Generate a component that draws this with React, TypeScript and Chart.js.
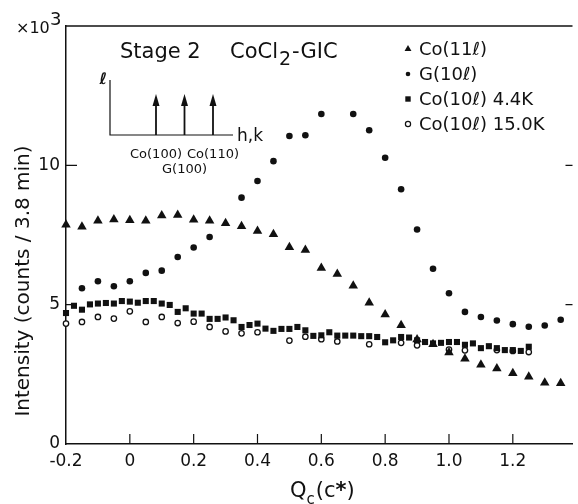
import React, { useEffect, useRef } from 'react';
import { Chart, registerables } from 'chart.js';

Chart.register(...registerables);

// ---------- data ----------
const triLabel = 'Co(11ℓ)';
const triQ = [-0.2, -0.15, -0.1, -0.05, 0, 0.05, 0.1, 0.15, 0.2, 0.25, 0.3, 0.35, 0.4, 0.45, 0.5, 0.55, 0.6, 0.65, 0.7, 0.75, 0.8, 0.85, 0.9, 0.95, 1.0, 1.05, 1.1, 1.15, 1.2, 1.25, 1.3, 1.35];
const triI = [7.87, 7.8, 8.01, 8.06, 8.03, 8.01, 8.2, 8.22, 8.05, 8.01, 7.92, 7.81, 7.64, 7.53, 7.06, 6.96, 6.32, 6.1, 5.68, 5.07, 4.65, 4.26, 3.75, 3.58, 3.28, 3.06, 2.84, 2.71, 2.54, 2.41, 2.2, 2.18];

const gLabel = 'G(10ℓ)';
const gQ = [-0.15, -0.1, -0.05, 0, 0.05, 0.1, 0.15, 0.2, 0.25, 0.35, 0.4, 0.45, 0.5, 0.55, 0.6, 0.7, 0.75, 0.8, 0.85, 0.9, 0.95, 1.0, 1.05, 1.1, 1.15, 1.2, 1.25, 1.3, 1.35];
const gI = [5.59, 5.84, 5.66, 5.84, 6.14, 6.22, 6.71, 7.05, 7.43, 8.84, 9.44, 10.15, 11.05, 11.08, 11.84, 11.84, 11.26, 10.27, 9.14, 7.7, 6.29, 5.41, 4.74, 4.56, 4.43, 4.3, 4.21, 4.25, 4.46];

const sqLabel = 'Co(10ℓ) 4.4K';
const sqQ = [-0.2, -0.175, -0.15, -0.125, -0.1, -0.075, -0.05, -0.025, 0, 0.025, 0.05, 0.075, 0.1, 0.125, 0.15, 0.175, 0.2, 0.225, 0.25, 0.275, 0.3, 0.325, 0.35, 0.375, 0.4, 0.425, 0.45, 0.475, 0.5, 0.525, 0.55, 0.575, 0.6, 0.625, 0.65, 0.675, 0.7, 0.725, 0.75, 0.775, 0.8, 0.825, 0.85, 0.875, 0.9, 0.925, 0.95, 0.975, 1.0, 1.025, 1.05, 1.075, 1.1, 1.125, 1.15, 1.175, 1.2, 1.225, 1.25];
const sqI = [4.7, 4.96, 4.82, 5.01, 5.04, 5.06, 5.04, 5.13, 5.11, 5.07, 5.13, 5.13, 5.04, 4.99, 4.74, 4.87, 4.68, 4.68, 4.49, 4.49, 4.54, 4.44, 4.2, 4.27, 4.32, 4.14, 4.06, 4.13, 4.13, 4.2, 4.08, 3.88, 3.9, 4.01, 3.89, 3.89, 3.89, 3.87, 3.87, 3.84, 3.65, 3.72, 3.84, 3.82, 3.72, 3.66, 3.61, 3.63, 3.66, 3.66, 3.56, 3.61, 3.44, 3.51, 3.44, 3.37, 3.37, 3.34, 3.49];

const ocLabel = 'Co(10ℓ) 15.0K';
const ocQ = [-0.2, -0.15, -0.1, -0.05, 0, 0.05, 0.1, 0.15, 0.2, 0.25, 0.3, 0.35, 0.4, 0.5, 0.55, 0.6, 0.65, 0.75, 0.85, 0.9, 1.0, 1.05, 1.15, 1.2, 1.25];
const ocI = [4.32, 4.38, 4.56, 4.5, 4.76, 4.38, 4.56, 4.34, 4.39, 4.2, 4.04, 3.97, 4.01, 3.71, 3.85, 3.76, 3.68, 3.58, 3.63, 3.54, 3.39, 3.36, 3.37, 3.34, 3.3];

const xTicks = [-0.2, 0, 0.2, 0.4, 0.6, 0.8, 1.0, 1.2];
const yTicks = [0, 5, 10];
const xMin = -0.2;
const xMax = 1.387;
const yMin = 0;
const yMax = 15;

const yTitle = 'Intensity (counts / 3.8 min)';
const insetLabels = ['Co(100)', 'G(100)', 'Co(110)'];

const FONT = '"DejaVu Sans", sans-serif';
const INK = '#111';

function drawMarker(ctx: CanvasRenderingContext2D, kind: string, x: number, y: number, r: number) {
  ctx.beginPath();
  if (kind === 'tri') {
    const c = Math.cos(Math.PI / 6) * r;
    ctx.moveTo(x, y - r);
    ctx.lineTo(x + c, y + r / 2);
    ctx.lineTo(x - c, y + r / 2);
    ctx.closePath();
    ctx.fillStyle = INK;
    ctx.fill();
  } else if (kind === 'dot') {
    ctx.arc(x, y, r, 0, Math.PI * 2);
    ctx.fillStyle = INK;
    ctx.fill();
  } else if (kind === 'sq') {
    ctx.rect(x - r, y - r, 2 * r, 2 * r);
    ctx.fillStyle = INK;
    ctx.fill();
  } else {
    ctx.arc(x, y, r, 0, Math.PI * 2);
    ctx.fillStyle = '#fff';
    ctx.fill();
    ctx.lineWidth = 1.2;
    ctx.strokeStyle = INK;
    ctx.stroke();
  }
}

export default function App() {
  const ref = useRef<HTMLCanvasElement>(null);

  useEffect(() => {
    document.body.style.margin = '0';
    const canvas = ref.current;
    if (!canvas) return;
    const pts = (qs: number[], vs: number[]) => qs.map((q, i) => ({ x: q, y: vs[i] }));

    const deco = {
      id: 'deco',
      afterDraw(chart: any) {
        const ctx: CanvasRenderingContext2D = chart.ctx;
        const { left, right, top, bottom } = chart.chartArea;
        const xs = chart.scales.x;
        const ys = chart.scales.y;
        ctx.save();
        ctx.strokeStyle = INK;
        ctx.lineWidth = 1.5;
        // top frame line
        ctx.beginPath();
        ctx.moveTo(left, top);
        ctx.lineTo(right, top);
        ctx.stroke();
        // x ticks (inward)
        ctx.lineWidth = 1.2;
        xTicks.forEach((v) => {
          if (v === xMin) return;
          const px = xs.getPixelForValue(v);
          ctx.beginPath();
          ctx.moveTo(px, bottom);
          ctx.lineTo(px, bottom - 10);
          ctx.stroke();
        });
        // y ticks (inward, both sides)
        yTicks.forEach((v) => {
          if (v === yMin) return;
          const py = ys.getPixelForValue(v);
          ctx.beginPath();
          ctx.moveTo(left, py);
          ctx.lineTo(left + 11, py);
          ctx.moveTo(right, py);
          ctx.lineTo(right - 7, py);
          ctx.stroke();
        });

        ctx.fillStyle = INK;
        ctx.textBaseline = 'alphabetic';
        // x10^3
        ctx.textAlign = 'left';
        ctx.font = `16px ${FONT}`;
        ctx.fillText('×10', 16, 33);
        ctx.font = `18px ${FONT}`;
        ctx.fillText('3', 50, 25);

        // Title
        ctx.font = `21px ${FONT}`;
        ctx.fillText('Stage 2', 120, 58);
        let tx = 230;
        ctx.fillText('CoCl', tx, 58);
        tx += ctx.measureText('CoCl').width + 1;
        ctx.font = `19px ${FONT}`;
        ctx.fillText('2', tx, 65);
        tx += ctx.measureText('2').width + 1;
        ctx.font = `21px ${FONT}`;
        ctx.fillText('-GIC', tx, 58);

        // Legend
        const legend = [
          { kind: 'tri', label: triLabel, r: 4, y: 49 },
          { kind: 'dot', label: gLabel, r: 2.3, y: 74 },
          { kind: 'sq', label: sqLabel, r: 2.7, y: 99 },
          { kind: 'oc', label: ocLabel, r: 2.6, y: 124 },
        ];
        ctx.font = `18px ${FONT}`;
        legend.forEach((l) => {
          drawMarker(ctx, l.kind, 408, l.y, l.r);
          ctx.fillStyle = INK;
          ctx.textBaseline = 'middle';
          ctx.fillText(l.label, 419, l.y + 1);
        });

        // Inset diagram
        ctx.strokeStyle = INK;
        ctx.lineWidth = 1.2;
        ctx.beginPath();
        ctx.moveTo(110, 80);
        ctx.lineTo(110, 135);
        ctx.lineTo(233, 135);
        ctx.stroke();
        const arrowX = [156, 184.5, 213];
        ctx.lineWidth = 1.8;
        arrowX.forEach((ax) => {
          ctx.beginPath();
          ctx.moveTo(ax, 135);
          ctx.lineTo(ax, 102);
          ctx.stroke();
          ctx.beginPath();
          ctx.moveTo(ax, 94);
          ctx.lineTo(ax + 3.5, 106);
          ctx.lineTo(ax - 3.5, 106);
          ctx.closePath();
          ctx.fill();
        });
        ctx.textBaseline = 'alphabetic';
        ctx.font = `17px ${FONT}`;
        ctx.textAlign = 'left';
        ctx.fillText('h,k', 237, 141);
        ctx.font = `bold italic 16px ${FONT}`;
        ctx.textAlign = 'right';
        ctx.fillText('ℓ', 107, 84);
        ctx.font = `13px ${FONT}`;
        ctx.textAlign = 'center';
        ctx.textBaseline = 'middle';
        ctx.fillText(insetLabels[0], 156, 155);
        ctx.fillText(insetLabels[1], 184.5, 170);
        ctx.fillText(insetLabels[2], 213, 155);

        // Axis titles
        ctx.textBaseline = 'alphabetic';
        ctx.textAlign = 'left';
        ctx.font = `21px ${FONT}`;
        let qx = 290;
        ctx.fillText('Q', qx, 497);
        qx += ctx.measureText('Q').width;
        ctx.font = `15px ${FONT}`;
        ctx.fillText('c', qx, 504);
        qx += ctx.measureText('c').width + 1;
        ctx.font = `21px ${FONT}`;
        ctx.fillText('(c', qx, 497);
        qx += ctx.measureText('(c').width;
        ctx.font = `bold 21px ${FONT}`;
        ctx.fillText('*', qx, 497);
        qx += ctx.measureText('*').width;
        ctx.font = `21px ${FONT}`;
        ctx.fillText(')', qx, 497);

        ctx.save();
        ctx.translate(29, 281);
        ctx.rotate(-Math.PI / 2);
        ctx.textAlign = 'center';
        ctx.font = `20px ${FONT}`;
        ctx.fillText(yTitle, 0, 0);
        ctx.restore();

        ctx.restore();
      },
    };

    const chart = new Chart(canvas, {
      type: 'scatter',
      data: {
        datasets: [
          { label: triLabel, data: pts(triQ, triI), pointStyle: 'triangle', pointRadius: 5.5, backgroundColor: INK, borderColor: INK, borderWidth: 0, clip: false } as any,
          { label: gLabel, data: pts(gQ, gI), pointStyle: 'circle', pointRadius: 3.3, backgroundColor: INK, borderColor: INK, borderWidth: 0, clip: false } as any,
          { label: sqLabel, data: pts(sqQ, sqI), pointStyle: 'rect', pointRadius: 4.3, backgroundColor: INK, borderColor: INK, borderWidth: 0, clip: false } as any,
          { label: ocLabel, data: pts(ocQ, ocI), pointStyle: 'circle', pointRadius: 2.7, backgroundColor: '#fff', borderColor: INK, borderWidth: 1.3, clip: false } as any,
        ],
      },
      options: {
        responsive: false,
        animation: false,
        events: [],
        devicePixelRatio: 1,
        layout: { padding: { top: 26, left: 0, right: 0, bottom: 0 } },
        plugins: { legend: { display: false }, tooltip: { enabled: false }, title: { display: false } },
        scales: {
          x: {
            type: 'linear',
            min: xMin,
            max: xMax,
            grid: { display: false, drawTicks: false },
            border: { display: true, color: INK, width: 1.5 },
            afterBuildTicks: (s: any) => { s.ticks = xTicks.map((v) => ({ value: v })); },
            afterFit: (s: any) => { s.height = 60; },
            ticks: {
              color: INK,
              padding: 7,
              maxRotation: 0,
              autoSkip: false,
              font: { family: FONT, size: 17 },
              callback: (v: any) => (Number(v) === 0 ? '0' : Number(v).toFixed(1)),
            },
          },
          y: {
            type: 'linear',
            min: yMin,
            max: yMax,
            grid: { display: false, drawTicks: false },
            border: { display: true, color: INK, width: 1.5 },
            afterBuildTicks: (s: any) => { s.ticks = yTicks.map((v) => ({ value: v })); },
            afterFit: (s: any) => { s.width = 66; },
            ticks: {
              color: INK,
              padding: 6,
              autoSkip: false,
              font: { family: FONT, size: 17 },
              callback: (v: any) => String(v),
            },
          },
        },
      },
      plugins: [deco],
    });
    return () => chart.destroy();
  }, []);

  return <canvas ref={ref} width={578} height={504} style={{ display: 'block', width: 578, height: 504 }} />;
}
